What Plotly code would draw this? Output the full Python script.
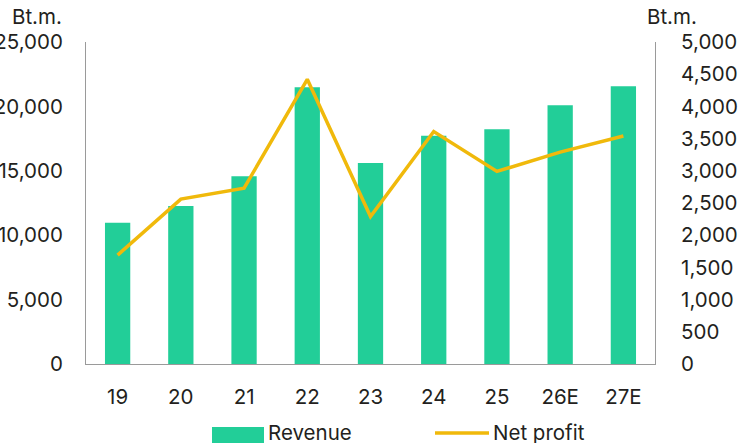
import plotly.graph_objects as go

categories = ["19", "20", "21", "22", "23", "24", "25", "26E", "27E"]
revenue = [10970, 12270, 14570, 21480, 15600, 17730, 18220, 20090, 21560]
net_profit = [1690, 2560, 2730, 4420, 2290, 3610, 2990, 3290, 3540]
left_ticks = [0, 5000, 10000, 15000, 20000, 25000]
right_ticks = [0, 500, 1000, 1500, 2000, 2500, 3000, 3500, 4000, 4500, 5000]

GREEN = "#22CE98"
GOLD = "#F0B90B"
FONT = "Inter"
FS = 20.5
TXT = "#231F20"
AX = "#9A9A9A"

fig = go.Figure()
fig.add_trace(go.Bar(x=categories, y=revenue, name="Revenue", marker=dict(color=GREEN, line=dict(width=0)),
                     yaxis="y", showlegend=False))
fig.add_trace(go.Scatter(x=categories, y=net_profit, name="Net profit", mode="lines",
                         line=dict(color=GOLD, width=3.5), yaxis="y2", showlegend=False))

fig.update_layout(
    width=751, height=443,
    margin=dict(l=86, r=96, t=42, b=79, pad=0, autoexpand=False),
    plot_bgcolor="white", paper_bgcolor="white",
    font=dict(family=FONT, size=FS, color=TXT),
    bargap=0.6,
    xaxis=dict(showline=True, linecolor=AX, linewidth=1, showgrid=False, ticks="", automargin=False,
               ticklabelstandoff=14, zeroline=False),
    yaxis=dict(range=[0, 25000], tickvals=left_ticks, tickformat=",", showline=True, linecolor=AX,
               linewidth=1, showgrid=False, zeroline=False, ticks="", ticklabelstandoff=18, automargin=False),
    yaxis2=dict(range=[0, 5000], tickvals=right_ticks, tickformat=",", overlaying="y", side="right",
                showline=True, linecolor=AX, linewidth=1, showgrid=False, zeroline=False, ticks="",
                ticklabelstandoff=21, automargin=False),
)

# Axis unit labels
fig.add_annotation(text="Bt.m.", xref="paper", yref="paper", x=(64 - 86) / 569, y=(364 - 17) / 322,
                   xanchor="right", yanchor="middle", showarrow=False, font=dict(size=FS))
fig.add_annotation(text="Bt.m.", xref="paper", yref="paper", x=(645 - 86) / 569, y=(364 - 17) / 322,
                   xanchor="left", yanchor="middle", showarrow=False, font=dict(size=FS))

# Legend
def px(x):
    return (x - 86) / 569

def py(y):
    return (364 - y) / 322

fig.add_shape(type="rect", xref="paper", yref="paper", x0=px(212), x1=px(264), y0=py(443), y1=py(427),
              fillcolor=GREEN, line=dict(width=0))
fig.add_annotation(text="Revenue", xref="paper", yref="paper", x=px(266), y=py(433), xanchor="left",
                   yanchor="middle", showarrow=False, font=dict(size=FS))
fig.add_shape(type="line", xref="paper", yref="paper", x0=px(435), x1=px(489), y0=py(433), y1=py(433),
              line=dict(color=GOLD, width=3.5))
fig.add_annotation(text="Net profit", xref="paper", yref="paper", x=px(491), y=py(433), xanchor="left",
                   yanchor="middle", showarrow=False, font=dict(size=FS))

fig.write_html("out.html", config={"displayModeBar": False},
               post_script="document.body.style.margin='0';document.body.style.overflow='hidden';")
